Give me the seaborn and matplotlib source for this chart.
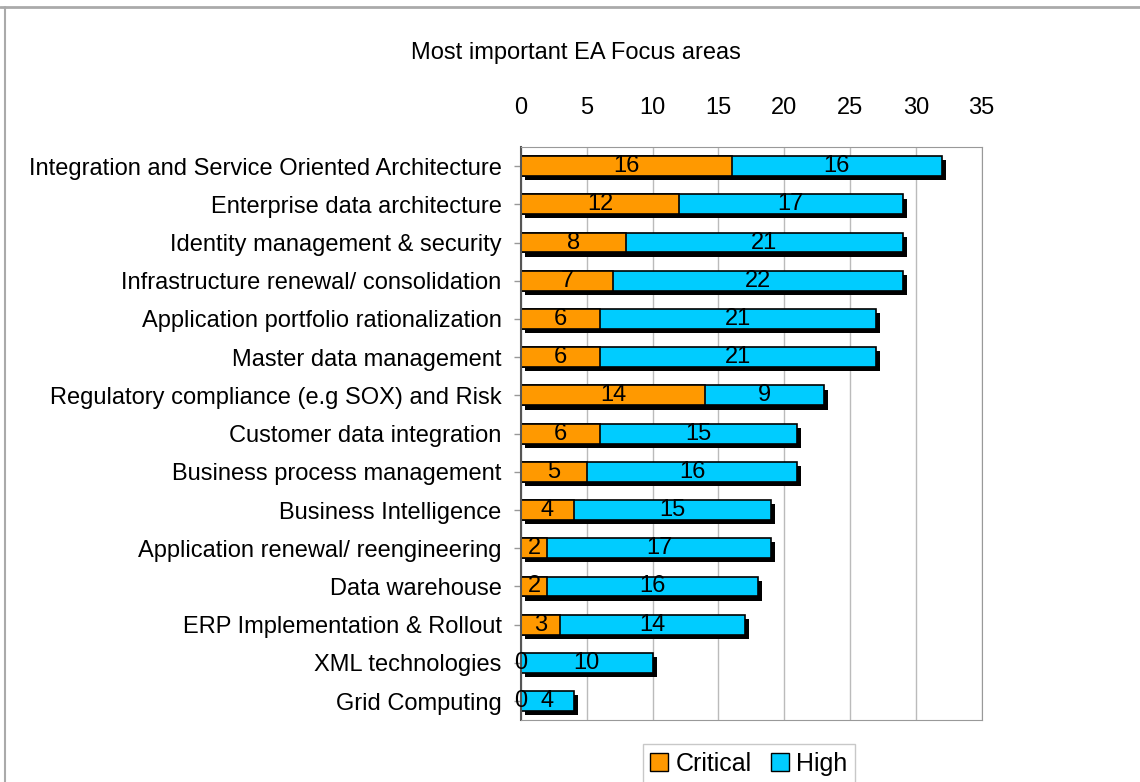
import matplotlib
matplotlib.use("Agg")
import matplotlib.pyplot as plt
import matplotlib.patheffects as pe
from matplotlib.lines import Line2D
from matplotlib.patches import Patch
import seaborn as sns
import pandas as pd

categories = [
    "Integration and Service Oriented Architecture",
    "Enterprise data architecture",
    "Identity management & security",
    "Infrastructure renewal/ consolidation",
    "Application portfolio rationalization",
    "Master data management",
    "Regulatory compliance (e.g SOX) and Risk",
    "Customer data integration",
    "Business process management",
    "Business Intelligence",
    "Application renewal/ reengineering",
    "Data warehouse",
    "ERP Implementation & Rollout",
    "XML technologies",
    "Grid Computing",
]
critical = [16, 12, 8, 7, 6, 6, 14, 6, 5, 4, 2, 2, 3, 0, 0]
high = [16, 17, 21, 22, 21, 21, 9, 15, 16, 15, 17, 16, 14, 10, 4]
x_ticks = [0, 5, 10, 15, 20, 25, 30, 35]

orange = "#FF9900"
cyan = "#00CCFF"

df = pd.DataFrame({"category": categories, "critical": critical, "high": high})
df["total"] = df["critical"] + df["high"]

sns.set_style("white")
plt.rcParams["font.family"] = ["Liberation Sans", "DejaVu Sans"]
plt.rcParams["text.color"] = "black"
plt.rcParams["xtick.labelcolor"] = "black"
plt.rcParams["ytick.labelcolor"] = "black"

fig = plt.figure(figsize=(11.4, 7.82), dpi=100)
ax = fig.add_axes([0.457, 0.079, 0.404, 0.733])

# total bar (high on top of critical) with drop shadow
sns.barplot(data=df, x="total", y="category", color=cyan, width=0.52,
            edgecolor="black", linewidth=1.2, saturation=1, ax=ax)
for p in ax.patches:
    p.set_path_effects([pe.SimplePatchShadow(offset=(3, -3), shadow_rgbFace="black", alpha=1),
                        pe.Normal()])
n = len(ax.patches)
sns.barplot(data=df, x="critical", y="category", color=orange, width=0.52,
            edgecolor="black", linewidth=1.2, saturation=1, ax=ax)
for p in ax.patches[n:]:
    p.set_path_effects([])

for i, (c, h) in enumerate(zip(critical, high)):
    ax.text(c / 2, i, str(c), ha="center", va="center", fontsize=17, color="black")
    ax.text(c + h / 2, i, str(h), ha="center", va="center", fontsize=17, color="black")

ax.set_xlim(0, 35)
ax.set_ylim(len(categories) - 0.5, -0.5)
ax.set_xticks(x_ticks)
ax.xaxis.tick_top()
ax.tick_params(axis="x", labelsize=17, length=0, pad=20)
ax.tick_params(axis="y", labelsize=17, length=5, width=1, color="#999999", pad=9, left=True)
ax.set_xlabel("")
ax.set_ylabel("")
ax.grid(axis="x", color="#BBBBBB", linewidth=1)
ax.set_axisbelow(True)
for side in ["top", "right", "bottom"]:
    ax.spines[side].set_color("#999999")
ax.spines["left"].set_color("#555555")
ax.spines["left"].set_linewidth(1.5)

fig.text(0.505, 0.932, "Most important EA Focus areas", ha="center", va="center", fontsize=17)

handles = [Patch(facecolor=orange, edgecolor="black", label="Critical"),
           Patch(facecolor=cyan, edgecolor="black", label="High")]
fig.legend(handles=handles, loc="upper center", bbox_to_anchor=(0.657, 0.048), ncol=2,
           frameon=True, fancybox=False, edgecolor="#BBBBBB", fontsize=18,
           handlelength=0.7, handleheight=0.7, handletextpad=0.3, columnspacing=0.8,
           borderaxespad=0, borderpad=0.3)

fig.add_artist(Line2D([0, 1], [0.991, 0.991], color="#AAAAAA", linewidth=2, transform=fig.transFigure))
fig.add_artist(Line2D([0.004, 0.004], [0, 0.991], color="#AAAAAA", linewidth=1.5, transform=fig.transFigure))

fig.savefig("out.png", dpi=100)
